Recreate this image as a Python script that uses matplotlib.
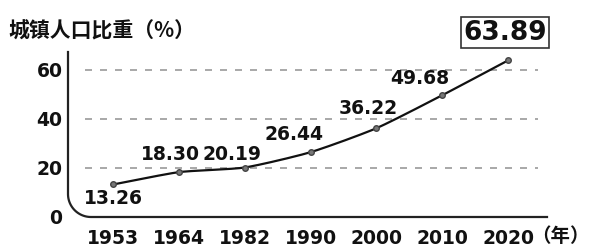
import numpy as np
import matplotlib
matplotlib.use('Agg')
import matplotlib.pyplot as plt

plt.rcParams['font.family'] = ['DejaVu Sans', 'Noto Sans CJK SC']

years = ['1953', '1964', '1982', '1990', '2000', '2010', '2020']
rates = [13.26, 18.30, 20.19, 26.44, 36.22, 49.68, 63.89]
yticks = [0, 20, 40, 60]
# label offsets in points (dx, dy)
offsets = [(0, -10), (-6, 13), (-9, 9), (-12, 13), (-6, 14), (-16, 12)]


def smooth(x, y, k=0.6, n=30):
    # cardinal spline through the points, for drawing only
    mx = np.gradient(x) * k
    my = np.gradient(y) * k
    t = np.linspace(0, 1, n)
    h00 = 2 * t ** 3 - 3 * t ** 2 + 1
    h10 = t ** 3 - 2 * t ** 2 + t
    h01 = -2 * t ** 3 + 3 * t ** 2
    h11 = t ** 3 - t ** 2
    xs, ys = [], []
    for i in range(len(x) - 1):
        xs.extend(h00 * x[i] + h10 * mx[i] + h01 * x[i + 1] + h11 * mx[i + 1])
        ys.extend(h00 * y[i] + h10 * my[i] + h01 * y[i + 1] + h11 * my[i + 1])
    return np.array(xs), np.array(ys)


fig = plt.figure(figsize=(5.95, 2.48), dpi=100)
ax = fig.add_axes([68 / 595, 31 / 248, 479 / 595, 165 / 248])
x = np.arange(len(years))
ax.set_xlim(-0.684, 6.59)
ax.set_ylim(0, 67.3)
for s in ax.spines.values():
    s.set_visible(False)
ax.tick_params(length=0)
ax.set_xticks(x)
ax.set_xticklabels(years, fontsize=13.5, fontweight='bold', color='#111')
ax.set_yticks(yticks)
ax.set_yticklabels([str(v) for v in yticks], fontsize=13.5, fontweight='bold', color='#111')
ax.tick_params(axis='x', pad=9)
ax.tick_params(axis='y', pad=4)

# dashed guide lines
for v in yticks[1:]:
    ax.plot([-0.43, 6.46], [v, v], color='#999', lw=1.2, dashes=(4.2, 4.8))

# axis lines with rounded corner (axes coords)
rx, ry = 23 / 479, 23 / 165
th = np.linspace(np.pi, 1.5 * np.pi, 30)
ax_x = np.concatenate([[0, 0], rx + rx * np.cos(th), [1.0]])
ax_y = np.concatenate([[1.0, ry], ry + ry * np.sin(th), [0]])
ax.plot(ax_x, ax_y, color='#222', lw=1.6, transform=ax.transAxes, clip_on=False)

sx, sy = smooth(x.astype(float), np.array(rates))
ax.plot(sx, sy, color='#111', lw=1.6, zorder=3)
ax.scatter(x, rates, s=16, color='#777', edgecolor='#444', zorder=4)

for i, (v, off) in enumerate(zip(rates[:-1], offsets)):
    ax.annotate(f'{v:.2f}', (x[i], v), xytext=off, textcoords='offset points',
                ha='center', va='center', fontsize=13.5, fontweight='bold', color='#111')
ax.annotate(f'{rates[-1]:.2f}', (x[-1], rates[-1]), xytext=(-2, 20),
            textcoords='offset points', ha='center', va='center',
            fontsize=19, fontweight='bold', color='#111', annotation_clip=False,
            bbox=dict(boxstyle='square,pad=0.08', fc='white', ec='#333', lw=1.2))

fig.text(8 / 595, 1 - 31 / 248, '城镇人口比重（%）', fontsize=15, fontweight='bold',
         family=['Noto Sans CJK SC', 'DejaVu Sans'], va='center', ha='left', color='#111')
fig.text(531 / 595, 1 - 237 / 248, '（年）', fontsize=14, fontweight='bold',
         family=['Noto Sans CJK SC', 'DejaVu Sans'], va='center', ha='left', color='#111')

fig.savefig('out.png', dpi=100)
